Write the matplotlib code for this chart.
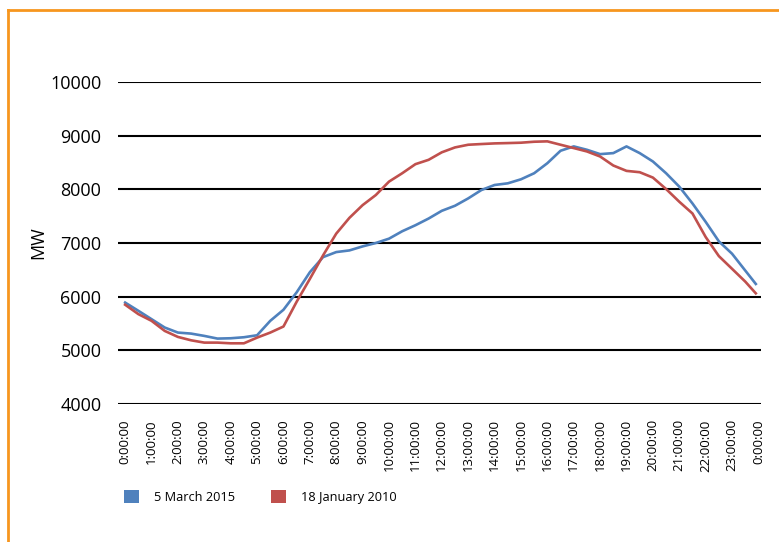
import matplotlib
matplotlib.use("Agg")
import matplotlib.pyplot as plt
from matplotlib.patches import Patch
from matplotlib.lines import Line2D

plt.rcParams['font.family'] = ['Open Sans', 'DejaVu Sans']

# half-hour samples (hours after midnight), last point just before midnight
hours = [0, 0.5, 1, 1.5, 2, 2.5, 3, 3.5, 4, 4.5, 5, 5.5, 6, 6.5, 7, 7.5,
         8, 8.5, 9, 9.5, 10, 10.5, 11, 11.5, 12, 12.5, 13, 13.5, 14, 14.5,
         15, 15.5, 16, 16.5, 17, 17.5, 18, 18.5, 19, 19.5, 20, 20.5, 21,
         21.5, 22, 22.5, 23, 23.5, 23.9]

march_2015 = [5890, 5737, 5581, 5425, 5331, 5312, 5269, 5219, 5225, 5244,
              5281, 5550, 5756, 6081, 6456, 6737, 6831, 6862, 6937, 7000,
              7081, 7219, 7331, 7456, 7600, 7694, 7831, 7987, 8081, 8112,
              8187, 8300, 8487, 8719, 8800, 8737, 8656, 8675, 8800, 8675,
              8519, 8300, 8050, 7737, 7394, 7031, 6800, 6487, 6237]

jan_2010 = [5850, 5675, 5550, 5362, 5250, 5187, 5144, 5144, 5131, 5131,
            5237, 5331, 5444, 5906, 6331, 6769, 7175, 7469, 7706, 7894,
            8144, 8300, 8469, 8550, 8690, 8781, 8831, 8844, 8856, 8862,
            8869, 8887, 8894, 8831, 8769, 8706, 8612, 8444, 8344, 8319,
            8219, 8006, 7769, 7550, 7112, 6756, 6519, 6281, 6062]

tick_hours = list(range(25))
tick_labels = [f"{h % 24}:00:00" for h in tick_hours]
y_ticks = [4000, 5000, 6000, 7000, 8000, 9000, 10000]

blue = "#4F81BD"
red = "#C0504D"

fig = plt.figure(figsize=(7.79, 5.42), dpi=100)
ax = fig.add_axes([0.1515, 0.2546, 0.8255, 0.5941])

ax.plot(hours, march_2015, color=blue, lw=1.9)
ax.plot(hours, jan_2010, color=red, lw=1.9)

ax.set_ylim(4000, 10000)
ax.set_xlim(-0.27, 24.1)
ax.set_yticks(y_ticks)
ax.set_yticklabels([str(v) for v in y_ticks], fontsize=13)
ax.set_xticks(tick_hours)
ax.set_xticklabels(tick_labels, rotation=90, fontsize=9.5, va="top")
ax.tick_params(axis="both", length=0)
ax.tick_params(axis="x", pad=11)
ax.tick_params(axis="y", pad=12)

for v in y_ticks:
    ax.axhline(v, color="black", lw=1.5, zorder=0)
for s in ax.spines.values():
    s.set_visible(False)

ax.set_ylabel("MW", fontsize=13, va="center")
ax.yaxis.set_label_coords(-0.124, 0.5)

handles = [Patch(facecolor=blue, edgecolor="none"),
           Patch(facecolor=red, edgecolor="none")]
fig.legend(handles, ["5 March 2015", "18 January 2010"], ncol=2,
           loc="center left", bbox_to_anchor=(0.1515, 0.083), frameon=False,
           borderpad=0, fontsize=9.2, handlelength=1.17, handleheight=1.17,
           handletextpad=1.17, columnspacing=2.8)

# orange frame on top and left
fig.add_artist(Line2D([0.0103, 1.0], [0.9815, 0.9815], color="#F7961E",
                      lw=2, transform=fig.transFigure))
fig.add_artist(Line2D([0.0103, 0.0103], [0.0, 0.9815], color="#F7961E",
                      lw=2, transform=fig.transFigure))

fig.savefig("out.png", dpi=100)
